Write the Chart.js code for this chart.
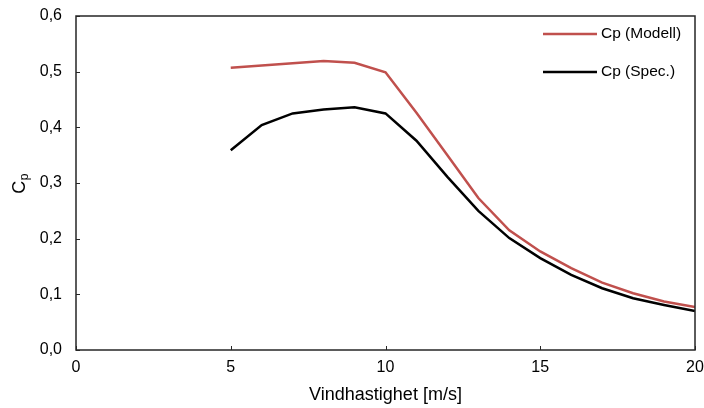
<!DOCTYPE html>
<html>
<head>
<meta charset="utf-8">
<script src="https://cdn.jsdelivr.net/npm/chart.js@4/dist/chart.umd.min.js"></script>
<style>
html,body{margin:0;padding:0;background:#fff;}
#wrap{position:relative;width:704px;height:408px;}
</style>
</head>
<body>
<div id="wrap"><canvas id="c" width="704" height="408"></canvas></div>
<script>
const windSpeeds = [5, 6, 7, 8, 9, 10, 11, 12, 13, 14, 15, 16, 17, 18, 19, 20];
const cpModell = [0.507, 0.511, 0.515, 0.519, 0.516, 0.499, 0.426, 0.350, 0.273, 0.215, 0.177, 0.147, 0.121, 0.102, 0.087, 0.077];
const cpSpec   = [0.359, 0.404, 0.425, 0.432, 0.436, 0.425, 0.376, 0.311, 0.250, 0.201, 0.165, 0.135, 0.111, 0.093, 0.081, 0.070];
const seriesNames = ['Cp (Modell)', 'Cp (Spec.)'];
const xTicks = [0, 5, 10, 15, 20];
const yTicks = [0, 0.1, 0.2, 0.3, 0.4, 0.5, 0.6];
const xTitle = 'Vindhastighet [m/s]';

const FONT = '"Liberation Sans", Arial, sans-serif';
const RED = '#C0504D';

function pts(ys){ return windSpeeds.map((x,i)=>({x:x,y:ys[i]})); }

const framePlugin = {
  id: 'frame',
  afterDraw(chart){
    const ctx = chart.ctx, a = chart.chartArea;
    const xs = chart.scales.x, ys = chart.scales.y;
    ctx.save();
    ctx.strokeStyle = '#262626';
    ctx.lineWidth = 1.5;
    ctx.strokeRect(a.left, a.top, a.right - a.left, a.bottom - a.top);
    ctx.lineWidth = 1;
    // inward tick marks
    xTicks.forEach(v=>{
      const px = Math.round(xs.getPixelForValue(v)) + 0.5;
      ctx.beginPath(); ctx.moveTo(px, a.bottom); ctx.lineTo(px, a.bottom - 4); ctx.stroke();
    });
    yTicks.forEach(v=>{
      const py = Math.round(ys.getPixelForValue(v)) + 0.5;
      ctx.beginPath(); ctx.moveTo(a.left, py); ctx.lineTo(a.left + 4, py); ctx.stroke();
    });
    // legend
    const cols = [RED, '#000000'];
    const ly = [34, 72];
    ctx.font = '15.5px ' + FONT;
    ctx.textBaseline = 'middle';
    ctx.textAlign = 'left';
    seriesNames.forEach((n,i)=>{
      ctx.strokeStyle = cols[i];
      ctx.lineWidth = 2.5;
      ctx.beginPath(); ctx.moveTo(543, ly[i]); ctx.lineTo(597, ly[i]); ctx.stroke();
      ctx.fillStyle = '#000';
      ctx.fillText(n, 601, ly[i]);
    });
    // y title C_p
    ctx.save();
    ctx.translate(20, 184);
    ctx.rotate(-Math.PI/2);
    ctx.fillStyle = '#000';
    ctx.textBaseline = 'middle';
    ctx.textAlign = 'left';
    ctx.font = '18px ' + FONT;
    const wC = ctx.measureText('C').width;
    ctx.font = '12px ' + FONT;
    const wp = ctx.measureText('p').width;
    const start = -(wC + wp)/2;
    ctx.font = '18px ' + FONT;
    ctx.fillText('C', start, 0);
    ctx.font = '12px ' + FONT;
    ctx.fillText('p', start + wC + 0.5, 5);
    ctx.restore();
    ctx.restore();
  }
};

new Chart(document.getElementById('c'), {
  type: 'line',
  data: {
    datasets: [
      { label: seriesNames[0], data: pts(cpModell), borderColor: RED, borderWidth: 2.5, pointRadius: 0, fill: false, tension: 0 },
      { label: seriesNames[1], data: pts(cpSpec), borderColor: '#000000', borderWidth: 2.5, pointRadius: 0, fill: false, tension: 0 }
    ]
  },
  options: {
    responsive: false,
    animation: false,
    devicePixelRatio: 1,
    layout: { padding: { left: 0, right: 9, top: 16, bottom: 0 } },
    plugins: { legend: { display: false }, tooltip: { enabled: false } },
    scales: {
      x: {
        type: 'linear', min: 0, max: 20,
        afterBuildTicks(s){ s.ticks = xTicks.map(v=>({value:v})); },
        afterFit(s){ s.height = 58; s.paddingLeft = 0; s.paddingRight = 0; },
        grid: { display: false, drawTicks: false },
        border: { display: false },
        ticks: { padding: 8, color: '#000', font: { family: FONT, size: 16 }, maxRotation: 0 },
        title: { display: true, text: xTitle, color: '#000', font: { family: FONT, size: 18 }, padding: { top: 4, bottom: 2 } }
      },
      y: {
        type: 'linear', min: 0, max: 0.6,
        afterBuildTicks(s){ s.ticks = yTicks.map(v=>({value:v})); },
        afterFit(s){ s.width = 76; s.paddingTop = 0; s.paddingBottom = 0; },
        grid: { display: false, drawTicks: false },
        border: { display: false },
        ticks: { padding: 14, color: '#000', font: { family: FONT, size: 16 }, callback: v => v.toFixed(1).replace('.', ',') }
      }
    }
  },
  plugins: [framePlugin]
});
</script>
</body>
</html>
